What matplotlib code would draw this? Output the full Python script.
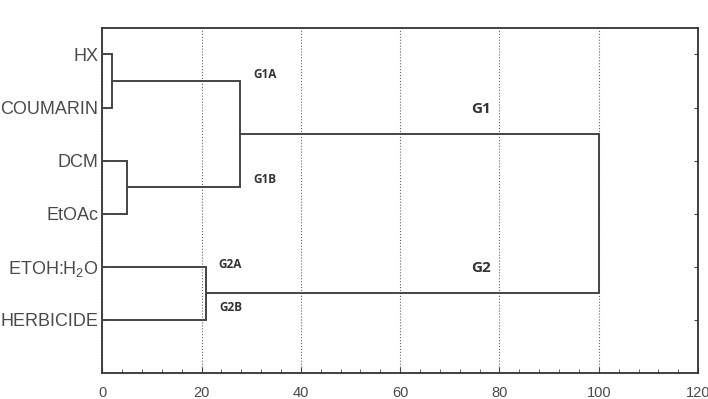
import matplotlib
matplotlib.use("Agg")
import matplotlib.pyplot as plt
from matplotlib.ticker import MultipleLocator

plt.rcParams['font.family'] = ['Liberation Sans', 'DejaVu Sans']
plt.rcParams['mathtext.fontset'] = 'custom'
plt.rcParams['mathtext.rm'] = 'Liberation Sans'
plt.rcParams['mathtext.it'] = 'Liberation Sans'

# leaves top to bottom
leaves = ["HX", "COUMARIN", "DCM", "EtOAc", "ETOH:H$_2$O", "HERBICIDE"]
# merges: (left node, right node, linkage distance); nodes >= 6 are earlier merges
merges = [
    (0, 1, 1.9),
    (2, 3, 4.9),
    (4, 5, 20.8),
    (6, 7, 27.7),
    (9, 8, 100.0),
]
group_labels = ["G1A", "G1B", "G2A", "G2B", "G1", "G2"]
group_x = [32.8, 32.8, 25.8, 25.8, 76.3, 76.3]
group_y = [5.63, 3.65, 2.04, 1.24, 4.98, 1.97]
group_size = [8.5, 8.5, 8.5, 8.5, 11, 11]

LINE = '#444444'

fig, ax = plt.subplots(figsize=(7.08, 3.99), dpi=100)
fig.subplots_adjust(left=0.1445, right=0.986, top=0.93, bottom=0.065)

n = len(leaves)
pos = {i: (0.0, n - i) for i in range(n)}
for k, (a, b, h) in enumerate(merges):
    xa, ya = pos[a]
    xb, yb = pos[b]
    ax.plot([xa, h, h, xb], [ya, ya, yb, yb], color=LINE, lw=1.4,
            solid_joinstyle='miter', zorder=3)
    pos[n + k] = (h, (ya + yb) / 2)

for lab, x, y, s in zip(group_labels, group_x, group_y, group_size):
    ax.text(x, y, lab, ha='center', va='center', fontsize=s, fontweight='bold',
            color='#333333', family=['Open Sans', 'DejaVu Sans'])

ax.set_xlim(0, 120)
ax.set_ylim(0, 6.5)
ax.xaxis.set_major_locator(MultipleLocator(20))
ax.xaxis.set_minor_locator(MultipleLocator(4))
ax.set_yticks(range(n, 0, -1))
ax.set_yticklabels(leaves)
ax.tick_params(axis='both', which='both', direction='in', colors=LINE,
               labelcolor='#4a4a4a')
ax.tick_params(axis='x', which='major', length=4, pad=9, labelsize=10.5)
ax.tick_params(axis='x', which='minor', length=3)
ax.tick_params(axis='y', length=3, right=True, pad=3, labelsize=13)
ax.xaxis.grid(True, linestyle=':', color='#666666', linewidth=0.8)
ax.set_axisbelow(True)
for sp in ax.spines.values():
    sp.set_color('#333333')
    sp.set_linewidth(1.3)

fig.savefig("out.png", dpi=100, facecolor='white')
